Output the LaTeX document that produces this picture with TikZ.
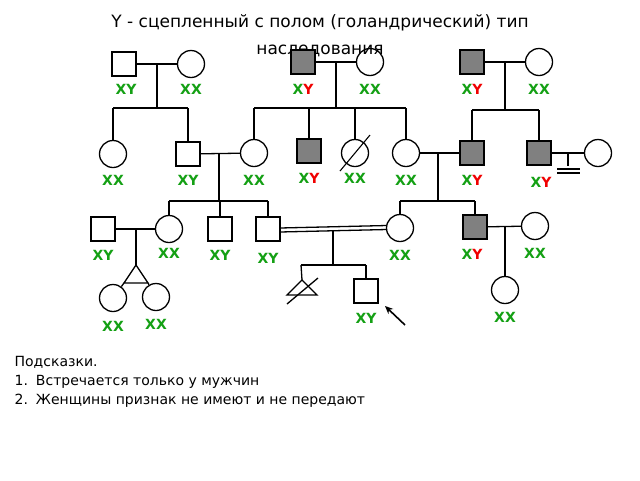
\documentclass[tikz,border=0pt]{standalone}
\usepackage{fontspec}
\usetikzlibrary{arrows.meta}
\setmainfont{DejaVu Sans}
\begin{document}
\begin{tikzpicture}[x=1pt,y=-1pt,line width=1.3pt,
  m/.style={draw,minimum size=24pt,inner sep=0pt},
  a/.style={m,fill=gg2},
  f/.style={draw,circle,minimum size=27pt,inner sep=0pt},
  lb/.style={font=\fontsize{14}{14}\selectfont\bfseries,text=gg},
  ]
\definecolor{gg}{RGB}{20,160,20}
\definecolor{gg2}{RGB}{128,128,128}
\definecolor{rr}{RGB}{240,0,0}
\newcommand{\XY}{X\textcolor{rr}{Y}}
\fill[white] (0,0) rectangle (640,480);
\useasboundingbox (0,0) rectangle (640,480);
\node[align=center,font=\fontsize{17}{27}\selectfont] (t) at (320,36) {Y - сцепленный с полом (голандрический) тип\\наследования};
% generation 1
\node[m] (A) at (124,64) {}; \node[f] (B) at (191,64) {};
\node[a] (C) at (303,62) {}; \node[f] (D) at (370,62) {};
\node[a] (E) at (472,62) {}; \node[f] (F) at (539,62) {};
\node[lb] at (126,89) {XY}; \node[lb] at (191,89) {XX};
\node[lb] at (303,89) {\XY}; \node[lb] at (370,89) {XX};
\node[lb] at (472,89) {\XY}; \node[lb] at (539,89) {XX};
% generation 2
\node[f] (g1) at (113,154) {}; \node[m] (g2) at (188,154) {};
\node[f] (g3) at (254,153) {}; \node[a] (g4) at (309,151) {};
\node[f] (g5) at (355,153) {}; \node[f] (g6) at (406,153) {};
\node[a] (g7) at (472,153) {}; \node[a] (g8) at (539,153) {};
\node[f] (g9) at (598,153) {};
\draw[line width=1.1pt] (340,171) -- (370,135);
\node[lb] at (113,180) {XX}; \node[lb] at (188,180) {XY};
\node[lb] at (254,180) {XX}; \node[lb] at (309,178) {\XY};
\node[lb] at (355,178) {XX}; \node[lb] at (406,180) {XX};
\node[lb] at (472,180) {\XY}; \node[lb] at (541,182) {\XY};
% generation 3
\node[m] (h1) at (103,229) {}; \node[f] (h2) at (169,229) {};
\node[m] (h3) at (220,229) {}; \node[m] (h4) at (268,229) {};
\node[f] (h5) at (400,228) {}; \node[a] (h6) at (475,227) {};
\node[f] (h7) at (535,226) {};
\node[lb] at (103,255) {XY}; \node[lb] at (169,253) {XX};
\node[lb] at (220,255) {XY}; \node[lb] at (268,258) {XY};
\node[lb] at (400,255) {XX}; \node[lb] at (472,254) {\XY};
\node[lb] at (535,253) {XX};
% generation 4
\node[f] (i1) at (113,298) {}; \node[f] (i2) at (156,297) {};
\node[m] (i4) at (366,291) {}; \node[f] (i5) at (505,290) {};
\node[lb] at (113,326) {XX}; \node[lb] at (156,324) {XX};
\node[lb] at (366,318) {XY}; \node[lb] at (505,317) {XX};
\coordinate (tf) at (302,280);
\draw (287,295) -- (tf) -- (317,295) -- cycle;
\draw (287,304) -- (318,278);
% couples and sibships
\draw (A) -- (B); \draw (157,64) -- (157,108);
\draw (113,108) -- (188,108); \draw (113,108) -- (g1); \draw (188,108) -- (g2);
\draw (C) -- (D); \draw (336,62) -- (336,108);
\draw (254,108) -- (406,108); \draw (254,108) -- (g3); \draw (309,108) -- (g4);
\draw (355,108) -- (g5); \draw (406,108) -- (g6);
\draw (E) -- (F); \draw (505,62) -- (505,110);
\draw (472,110) -- (539,110); \draw (472,110) -- (g7); \draw (539,110) -- (g8);
\draw (g8) -- (g9); \draw (568,153) -- (568,166);
\draw (557,169) -- (580,169); \draw (557,173) -- (580,173);
\draw (g2) -- (g3); \draw (219,154) -- (219,201);
\draw (169,201) -- (268,201); \draw (169,201) -- (h2); \draw (220,201) -- (h3); \draw (268,201) -- (h4);
\draw (g6) -- (g7); \draw (438,153) -- (438,201);
\draw (400,201) -- (475,201); \draw (400,201) -- (h5); \draw (475,201) -- (h6);
\draw (h1) -- (h2); \draw (136,229) -- (136,265);
\draw (136,265) -- (124,283) -- (148,283) -- cycle;
\draw (124,283) -- (i1); \draw (148,283) -- (i2);
\draw (280,228) -- (387,225.5);
\draw (280,232) -- (387,229.5);
\draw (333,230) -- (333,265); \draw (301,265) -- (366,265);
\draw (301,265) -- (tf); \draw (366,265) -- (i4);
\draw (h6) -- (h7); \draw (505,227) -- (i5);
\draw[line width=1.6pt,-{Stealth[length=8pt,width=7pt]}] (405,325) -- (385,306);
% hints
\node[anchor=north west,align=left,font=\fontsize{14}{19}\selectfont,inner sep=0pt] (hint) at (14,356)
 {Подсказки.\\1.\hspace{8pt}Встречается только у мужчин\\2.\hspace{8pt}Женщины признак не имеют и не передают};
\end{tikzpicture}
\end{document}
